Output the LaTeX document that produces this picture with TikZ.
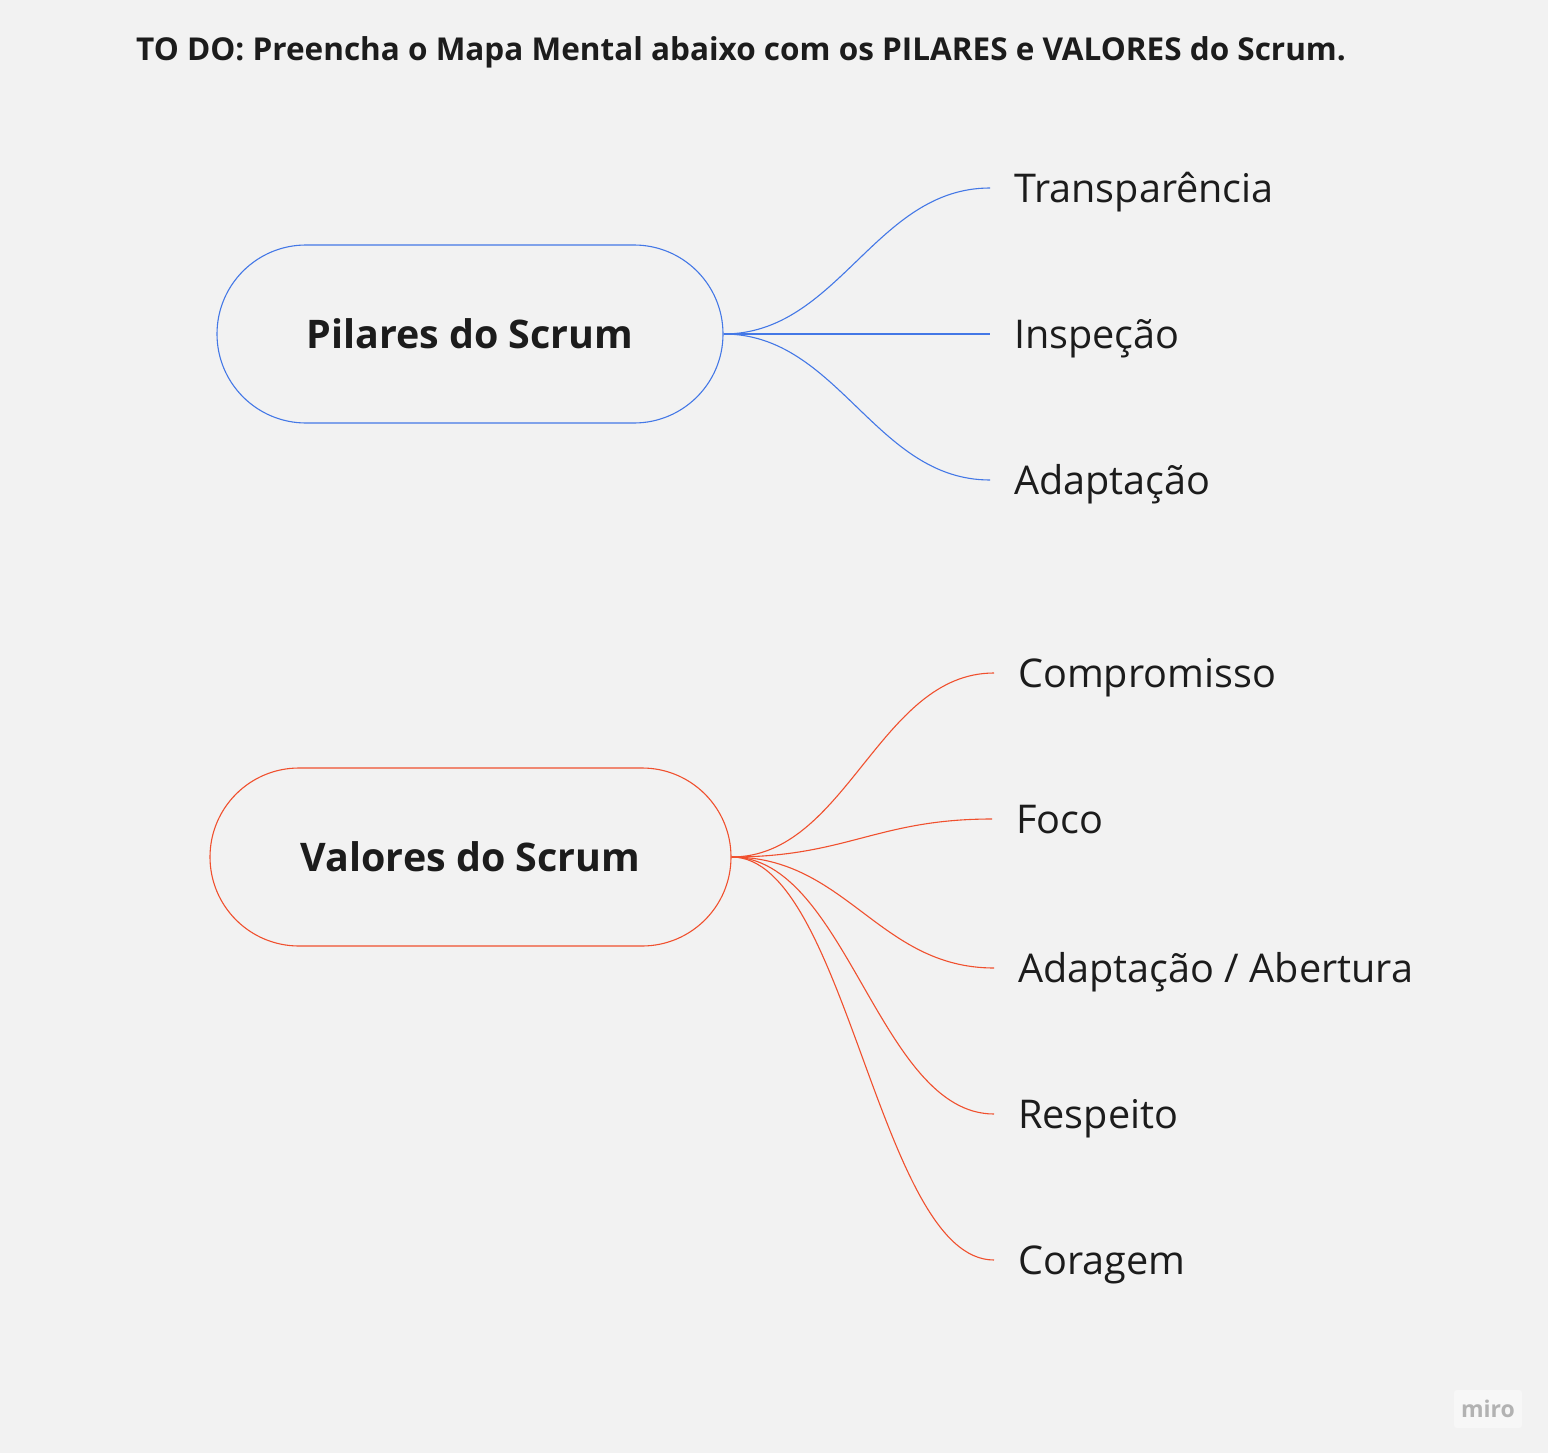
\documentclass[tikz,border=0pt]{standalone}
\usepackage{fontspec}
\setmainfont{Open Sans}
\usetikzlibrary{shapes.misc}

\definecolor{bgcol}{HTML}{F2F2F2}
\definecolor{inkcol}{HTML}{1C1C1C}
\definecolor{pilarcol}{HTML}{4478E6}
\definecolor{valorcol}{HTML}{F0502E}

\tikzset{
  topic/.style={draw, line width=1.1pt, rounded rectangle, minimum width=506pt, minimum height=178pt,
    inner sep=0pt, font=\fontsize{39.4}{46}\selectfont\bfseries, text=inkcol},
  leaf/.style={anchor=west, inner xsep=24pt, inner ysep=0pt, text height=28pt, text depth=0pt,
    font=\fontsize{39.6}{46}\selectfont, text=inkcol},
  branch/.style={line width=1.1pt}
}

\begin{document}
\begin{tikzpicture}[x=1pt, y=-1pt]
\fill[bgcol] (0,0) rectangle (1548,1453);
\useasboundingbox (0,0) rectangle (1548,1453);

\node[anchor=base west, inner sep=0pt, text=inkcol, font=\fontsize{31.5}{36}\selectfont\bfseries] (titulo) at (136,61)
   {TO DO: Preencha o Mapa Mental abaixo com os PILARES e VALORES do Scrum.};

\node[topic, pilarcol] (pilares) at (470,334) {\textcolor{inkcol}{Pilares do Scrum}};
\node[leaf] (transp) at (990,188) {Transparência};
\node[leaf] (inspecao) at (990,334) {Inspeção};
\node[leaf] (adapt) at (990,480) {Adaptação};

\foreach \n in {transp, inspecao, adapt}
   \draw[branch, pilarcol] (pilares.east) .. controls +(115,0) and +(-115,0) .. (\n.west);

\node[topic, valorcol, minimum width=521pt] (valores) at (470.5,857) {\textcolor{inkcol}{Valores do Scrum}};
\node[leaf] (compromisso) at (994,673) {Compromisso};
\node[leaf] (foco) at (992,819) {Foco};
\node[leaf] (abertura) at (994,968) {Adaptação / Abertura};
\node[leaf] (respeito) at (994,1114) {Respeito};
\node[leaf] (coragem) at (994,1260) {Coragem};

\foreach \n in {compromisso, foco, abertura, respeito, coragem}
   \draw[branch, valorcol] (valores.east) .. controls +(115,0) and +(-115,0) .. (\n.west);

\node[fill=white!40!bgcol, rounded corners=3pt, minimum width=68pt, minimum height=38pt,
   text=black!30, font=\fontsize{23}{27}\selectfont\bfseries] (miro) at (1488,1409) {miro};
\end{tikzpicture}
\end{document}
